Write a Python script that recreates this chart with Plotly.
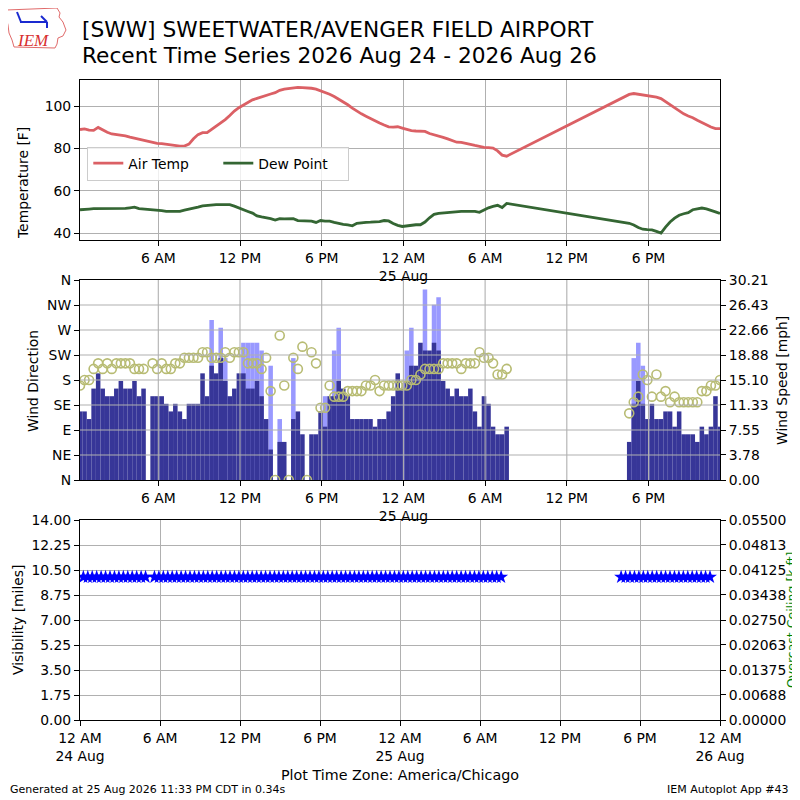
import pandas as pd
import plotly.graph_objects as go

# observation times (America/Chicago), reports every 20 minutes, no data 07:55 - 16:15 on the 25th
times_a = pd.date_range("2026-08-24 00:15", "2026-08-25 07:35", freq="20min")
times_b = pd.date_range("2026-08-25 16:35", "2026-08-25 23:15", freq="20min")

# air temperature [F]
temp_a = [88.9, 89.2, 88.6, 88.5, 89.9, 88.7, 87.6, 86.8, 86.5, 86.3,
          85.9, 85.3, 84.8, 84.3, 83.7, None, 82.8, 82.4, 82.2, 81.9,
          81.6, 81.3, 81.1, 81.1, 82.0, 84.5, 86.5, 87.4, 87.4, 89.0,
          90.5, 92.0, 93.6, 95.5, 97.6, 99.2, 100.5, 101.8, 102.9, 103.6,
          104.4, 105.0, 105.7, 106.3, 107.4, 108.0, 108.3, 108.6, 108.8, 108.7,
          108.7, 108.4, 108.0, 107.3, 106.5, 105.6, 104.5, 103.3, 102.0, 100.6,
          99.0, 97.5, 96.3, 95.2, 94.0, 93.0, 92.0, 91.0, 90.2, 90.0,
          90.2, 89.6, 88.9, 88.4, 88.2, 88.2, 88.0, 87.0, 86.5, 85.9,
          85.2, 84.5, 83.7, 82.9, 82.8, 82.5, 81.9, 81.4, 80.8, 80.5,
          80.3, 80.1, 78.8, 76.8, 76.3]
temp_b = [105.5, 105.9, 105.6, 105.2, 104.9, 104.5, 104.2, 103.5, 102.0, 100.6,
          99.0, 97.6, 96.3, 95.3, 94.5, 93.3, 92.2, 91.2, 90.1, 89.3, 89.3]

# dew point [F]
dewp_a = [51.0, 51.0, 51.3, 51.5, 51.5, 51.5, 51.6, 51.6, 51.8, 51.7,
          51.6, 51.9, 52.2, 51.5, 51.3, None, 51.0, 51.0, 50.6, 50.2,
          50.2, 50.2, 50.2, 50.8, 51.2, 51.7, 52.2, 52.8, 53.1, 53.3,
          53.4, 53.4, 53.4, 53.4, 52.7, 51.8, 50.8, 50.2, 49.4, 48.1,
          47.6, 47.3, 46.8, 46.1, 46.8, 46.7, 46.7, 46.8, 45.9, 45.8,
          46.0, 45.6, 45.0, 45.9, 45.6, 45.6, 45.0, 44.4, 44.1, 43.8,
          43.4, 44.6, 44.9, 45.0, 45.1, 45.1, 45.4, 45.9, 45.7, 44.5,
          43.6, 43.1, 43.4, 43.7, 43.9, 43.9, 45.2, 47.2, 48.8, 49.3,
          49.5, 49.7, 50.0, 50.2, 50.2, 50.2, 50.2, 50.2, 49.8, 50.9,
          51.9, 52.6, 53.1, 52.0, 54.0]
dewp_b = [44.6, 43.8, 42.6, 41.8, 41.6, 41.5, 40.8, 40.0, 42.8, 45.2,
          47.0, 48.4, 49.1, 49.6, 51.0, 51.5, 51.8, 51.4, 50.8, 50.0, 49.2]

# wind speed [kt]
sknt_a = [9, 9, 8, 12, 14, 12, 11, 11, 12, 13,
          12, 12, 13, 11, 12, None, 11, 11, 11, 10,
          9, 10, 9, 8, 10, 10, 10, 14, 11, 15,
          14, 16, 13, 11, 12, 14, 14, 12, 12, 13,
          11, 8, 4, 0, 5, 5, 0, 8, 9, 6,
          0, 6, 6, 9, 7, 11, 11, 13, 12, 11,
          8, 8, 8, 8, 8, 7, 8, 8, 9, 11,
          14, 12, 13, 15, 15, 18, 17, 17, 18, 17,
          13, 12, 11, 12, 11, 11, 12, 9, 7, 11,
          10, 7, 6, 6, 7]
sknt_b = [5, 10, 13, 10, 8, 10, 8, 8, 9, 9, 7, 9, 6, 6, 6, 5, 7, 6, 7, 11, 7]

# wind gust [kt]
gust_a = [None, None, None, None, None, None, None, None, None, None,
          None, None, None, None, None, None, None, None, None, None,
          None, None, None, None, None, None, None, None, None, 21,
          None, 20, 16, None, None, None, 18, 18, 18, 18,
          17, None, 15, None, 8, None, None, 16, None, None,
          None, None, None, None, 11, None, 17, 20, None, None,
          None, None, None, None, None, None, None, None, None, None,
          None, None, 17, 20, None, None, 25, None, 23, 24,
          None, None, None, None, None, None, None, None, None, None,
          None, None, None, None, None]
gust_b = [None, 16, 18, 15, None, None, None, None, None, None,
          None, None, None, None, None, None, None, None, None, None, None]

# wind direction [deg]
drct_a = [170, 180, 180, 200, 210, 200, 210, 200, 210, 210,
          210, 210, 200, 200, 200, None, 210, 200, 210, 200,
          200, 210, 210, 220, 220, 220, 220, 230, 230, 220,
          220, 220, 230, 220, 230, 230, 230, 210, 210, 210,
          200, 220, 160, 0, 260, 170, 0, 220, 200, 240,
          0, 230, 210, 130, 130, 170, 150, 150, 150, 160,
          160, 160, 160, 170, 170, 180, 160, 170, 170, 170,
          170, 170, 170, 180, 180, 190, 200, 200, 200, 200,
          210, 210, 210, 210, 200, 210, 210, 210, 230, 220,
          220, 210, 190, 190, 200]
drct_b = [120, 140, 150, 190, 180, 150, 190, 150, 160, 140,
          150, 140, 140, 140, 140, 140, 160, 160, 170, 170, 180]

# visibility [miles]
vsby_a = [10, 10, 10, 10, 10, 10, 10, 10, 10, 10,
          10, 10, 10, 10, 10, None, 10, 10, 10, 10,
          10, 10, 10, 10, 10, 10, 10, 10, 10, 10,
          10, 10, 10, 10, 10, 10, 10, 10, 10, 10,
          10, 10, 10, 10, 10, 10, 10, 10, 10, 10,
          10, 10, 10, 10, 10, 10, 10, 10, 10, 10,
          10, 10, 10, 10, 10, 10, 10, 10, 10, 10,
          10, 10, 10, 10, 10, 10, 10, 10, 10, 10,
          10, 10, 10, 10, 10, 10, 10, 10, 10, 10,
          10, 10, 10, 10, 10]
vsby_b = [10, 10, 10, 10, 10, 10, 10, 10, 10, 10,
          10, 10, 10, 10, 10, 10, 10, 10, 10, 10, 10]

# overcast ceiling [k ft] - none reported
ceil_times = []
ceil_vals = []

# axis ticks
tick_times = ["2026-08-24 06:00", "2026-08-24 12:00", "2026-08-24 18:00", "2026-08-25 00:00",
              "2026-08-25 06:00", "2026-08-25 12:00", "2026-08-25 18:00"]
tick_labels = ["6 AM", "12 PM", "6 PM", "12 AM<br>25 Aug", "6 AM", "12 PM", "6 PM"]
bottom_tick_times = ["2026-08-24 00:00"] + tick_times + ["2026-08-26 00:00"]
bottom_tick_labels = ["12 AM<br>24 Aug"] + tick_labels + ["12 AM<br>26 Aug"]
temp_ticks = [40, 60, 80, 100]
dir_ticks = [0, 45, 90, 135, 180, 225, 270, 315, 360]
dir_labels = ["N", "NE", "E", "SE", "S", "SW", "W", "NW", "N"]
speed_ticks = [0.00, 3.78, 7.55, 11.33, 15.10, 18.88, 22.66, 26.43, 30.21]
ceil_ticks = [0.0, 0.00688, 0.01375, 0.02063, 0.0275, 0.03438, 0.04125, 0.04813, 0.055]

# combine both pieces
times = list(times_a) + list(times_b)
tmpf = temp_a + temp_b
dwpf = dewp_a + dewp_b
KT2MPH = 1.15078
sped = [None if v is None else v * KT2MPH for v in sknt_a + sknt_b]
gust = [None if v is None else v * KT2MPH for v in gust_a + gust_b]
drct = drct_a + drct_b
vsby = vsby_a + vsby_b

FONT = "DejaVu Sans"
TICKSIZE = 13.9
GRID = "#b0b0b0"


def px(x, y):
    # page pixel -> paper coords (plot area sits at 80..720 on the page)
    return (x - 80) / 640, (720 - y) / 640


fig = go.Figure()

fig.add_trace(go.Scatter(x=times, y=tmpf, mode="lines", name="Air Temp", connectgaps=True,
                         line=dict(color="#db6065", width=2.8), xaxis="x", yaxis="y"))
fig.add_trace(go.Scatter(x=times, y=dwpf, mode="lines", name="Dew Point", connectgaps=True,
                         line=dict(color="#346633", width=2.8), xaxis="x", yaxis="y"))

fig.add_trace(go.Bar(x=times, y=gust, width=20 * 60 * 1000, marker=dict(color="#9999ff", line_width=0),
                     showlegend=False, xaxis="x2", yaxis="y2"))
fig.add_trace(go.Bar(x=times, y=sped, width=20 * 60 * 1000, marker=dict(color="#373698", line_width=0),
                     showlegend=False, xaxis="x2", yaxis="y2"))
fig.add_trace(go.Scatter(x=times, y=drct, mode="markers", showlegend=False,
                         marker=dict(symbol="circle-open", size=9, color="#b8bc74", line=dict(width=1.6)),
                         xaxis="x2", yaxis="y3"))

fig.add_trace(go.Scatter(x=times, y=vsby, mode="markers", showlegend=False,
                         marker=dict(symbol="star", size=10.5, color="#0000ff"),
                         xaxis="x3", yaxis="y4"))
fig.add_trace(go.Scatter(x=ceil_times, y=ceil_vals, mode="markers", showlegend=False,
                         marker=dict(color="green"), xaxis="x3", yaxis="y5"))

ax = dict(showline=True, linecolor="black", linewidth=1.1, ticks="outside", ticklen=5,
          tickwidth=1.1, tickcolor="black", tickfont=dict(family=FONT, size=TICKSIZE, color="black"),
          zeroline=False, gridcolor=GRID, gridwidth=1.1)
xrange = ["2026-08-24 00:15", "2026-08-25 23:15"]

fig.update_layout(
    xaxis=dict(ax, domain=[0, 1], anchor="y", range=xrange, tickmode="array",
               tickvals=tick_times, ticktext=tick_labels, showgrid=True, mirror=True),
    yaxis=dict(ax, domain=[0.75, 1], anchor="x", range=[36.7, 112.3], tickmode="array",
               tickvals=temp_ticks, showgrid=True, mirror=True),
    xaxis2=dict(ax, domain=[0, 1], anchor="y2", range=xrange, tickmode="array",
                tickvals=tick_times, ticktext=tick_labels, showgrid=False, mirror=True),
    yaxis2=dict(ax, domain=[0.375, 0.6875], anchor="x2", side="right", range=[0, 30.21],
                tickmode="array", tickvals=speed_ticks, ticktext=["%.2f" % v for v in speed_ticks],
                showgrid=False),
    yaxis3=dict(ax, overlaying="y2", anchor="x2", side="left", range=[0, 360], tickmode="array",
                tickvals=dir_ticks, ticktext=dir_labels, showgrid=False),
    xaxis3=dict(ax, domain=[0, 1], anchor="y4", range=["2026-08-24 00:00", "2026-08-26 00:00"],
                tickmode="array", tickvals=bottom_tick_times, ticktext=bottom_tick_labels,
                showgrid=True, mirror=True),
    yaxis4=dict(ax, domain=[0, 0.3125], anchor="x3", range=[0, 14], tick0=0, dtick=1.75,
                tickformat=".2f", showgrid=True),
    yaxis5=dict(ax, overlaying="y4", anchor="x3", side="right", range=[0, 0.055], tickmode="array",
                tickvals=ceil_ticks, ticktext=["%.5f" % v for v in ceil_ticks], showgrid=False),
    barmode="overlay",
    width=800, height=800, autosize=False,
    # the page puts the figure 8px in from the top-left corner
    margin=dict(l=72, r=88, t=72, b=88),
    paper_bgcolor="white", plot_bgcolor="white",
    font=dict(family=FONT, size=TICKSIZE, color="black"),
    legend=dict(orientation="h", x=0.0114, y=0.896, xanchor="left", yanchor="top",
                bgcolor="rgba(255,255,255,0.8)", bordercolor="#cccccc", borderwidth=1,
                font=dict(family=FONT, size=TICKSIZE), itemwidth=30, entrywidth=85),
)

# wind panel grid is drawn over the bars, like the original
shapes = []
for t in tick_times:
    shapes.append(dict(type="line", layer="above", xref="x2", yref="y2 domain", x0=t, x1=t, y0=0, y1=1,
                       line=dict(color=GRID, width=1.1)))
for d in dir_ticks[1:-1]:
    shapes.append(dict(type="line", layer="above", xref="x2 domain", yref="y3", x0=0, x1=1, y0=d, y1=d,
                       line=dict(color=GRID, width=1.1)))

# rough IEM logo: state outline with station symbol
outline = [(7, 10), (57, 8), (60, 13), (59, 17), (63, 22), (66, 30), (63, 36), (58, 38),
           (57, 44), (55, 48), (14, 47), (12, 40), (9, 33), (8, 25), (6, 17)]
path = "M " + " L ".join("%.4f,%.4f" % px(x, y) for x, y in outline) + " Z"
shapes.append(dict(type="path", xref="paper", yref="paper", path=path,
                   line=dict(color="#e06a6a", width=1)))
for (x0, y0, x1, y1) in [(20, 22, 47, 22), (17, 12, 21, 22), (41, 16, 47, 22), (47, 22, 47, 28)]:
    a, b = px(x0, y0)
    c, d = px(x1, y1)
    shapes.append(dict(type="line", xref="paper", yref="paper", x0=a, y0=b, x1=c, y1=d,
                       line=dict(color="#1a2ad0", width=2)))
fig.update_layout(shapes=shapes)

notes = [
    ("[SWW] SWEETWATER/AVENGER FIELD AIRPORT", 80, 29, 21.7, "left", "black", 0),
    ("Recent Time Series 2026 Aug 24 - 2026 Aug 26", 80, 56, 21.7, "left", "black", 0),
    ("Temperature [F]", 23, 183, TICKSIZE, "center", "black", -90),
    ("Wind Direction", 33, 381, TICKSIZE, "center", "black", -90),
    ("Wind Speed [mph]", 782, 381, TICKSIZE, "center", "black", -90),
    ("Visibility [miles]", 18, 620, TICKSIZE, "center", "black", -90),
    ("Overcast Ceiling [k ft]", 791, 620, 12.5, "center", "green", -90),
    ("Plot Time Zone: America/Chicago", 400, 775, 14.3, "center", "black", 0),
    ("Generated at 25 Aug 2026 11:33 PM CDT in 0.34s", 8, 789, 11, "left", "black", 0),
    ("IEM Autoplot App #43", 791, 789, 11, "right", "black", 0),
]
for text, x, y, size, anchor, color, angle in notes:
    a, b = px(x, y)
    fig.add_annotation(text=text, x=a, y=b, xref="paper", yref="paper", showarrow=False,
                       xanchor=anchor, yanchor="middle", textangle=angle,
                       font=dict(family=FONT, size=size, color=color))

a, b = px(33, 40)
fig.add_annotation(text="<i>IEM</i>", x=a, y=b, xref="paper", yref="paper", showarrow=False,
                   xanchor="center", yanchor="middle",
                   font=dict(family="Liberation Serif", size=17, color="#d83030"))

fig.write_html("out.html")
